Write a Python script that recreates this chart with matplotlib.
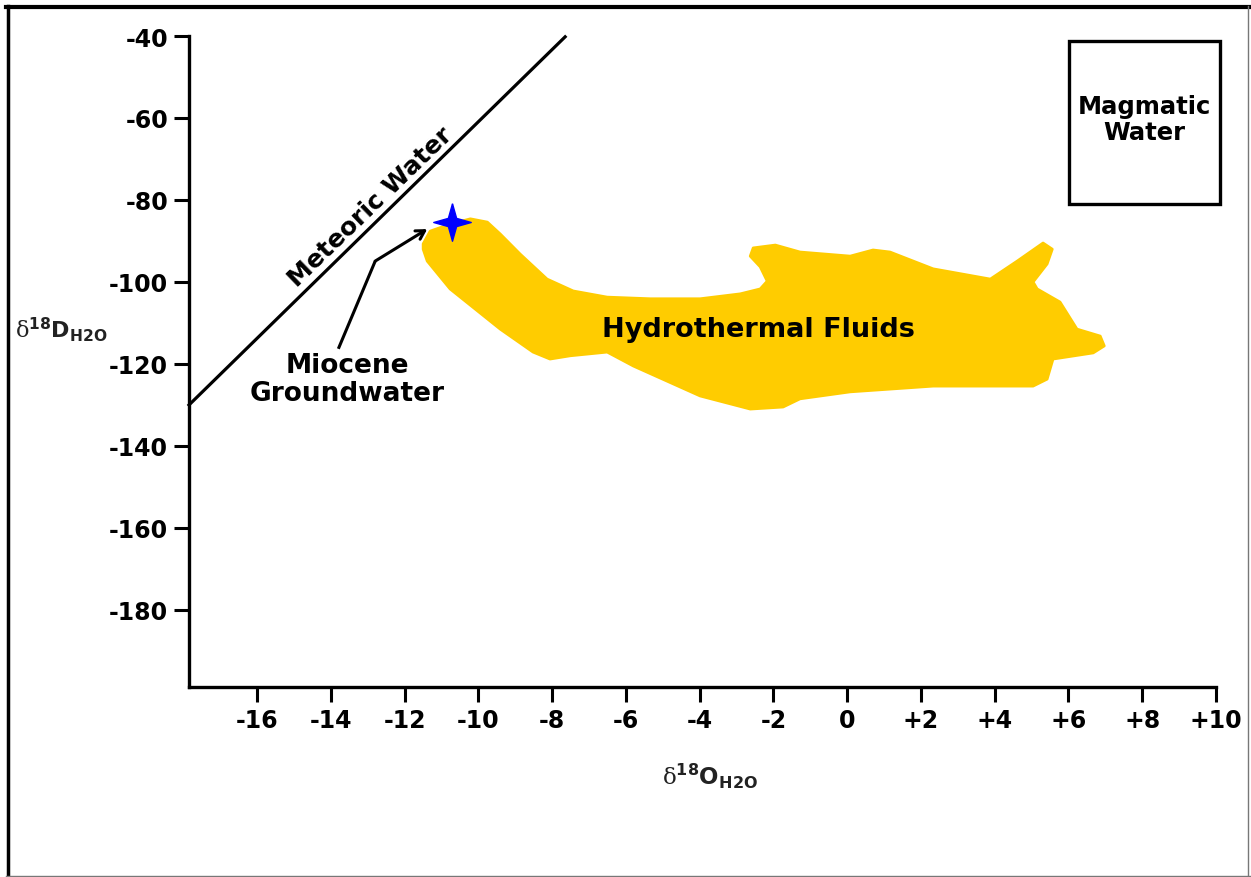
import matplotlib
matplotlib.use("Agg")
import matplotlib.pyplot as plt
from matplotlib.patches import Polygon, Rectangle
from matplotlib.path import Path
from matplotlib.lines import Line2D

plt.rcParams["font.family"] = ["DejaVu Sans"]
plt.rcParams["mathtext.fontset"] = "custom"
plt.rcParams["mathtext.rm"] = "DejaVu Serif"
plt.rcParams["mathtext.bf"] = "DejaVu Sans:bold"

# axis ticks
x_ticks = [-16, -14, -12, -10, -8, -6, -4, -2, 0, 2, 4, 6, 8, 10]
x_tick_labels = ["-16", "-14", "-12", "-10", "-8", "-6", "-4", "-2", "0",
                 "+2", "+4", "+6", "+8", "+10"]
y_ticks = [-40, -60, -80, -100, -120, -140, -160, -180]
y_tick_labels = ["-40", "-60", "-80", "-100", "-120", "-140", "-160", "-180"]

# meteoric water line
meteoric_x = [-17.85, -7.65]
meteoric_y = [-130.0, -40.2]

# hydrothermal fluids field outline
blob_x = [-11.50, -11.31, -10.77, -10.22, -9.76, -9.41, -8.87, -8.14, -7.43,
          -6.51, -5.34, -3.99, -2.90, -2.36, -2.17, -2.36, -2.63, -2.55, -1.95,
          -1.28, 0.08, 0.70, 1.16, 2.33, 3.88, 4.61, 5.31, 5.56, 5.42, 5.04,
          5.15, 5.77, 6.23, 6.86, 6.97, 6.67, 5.58, 5.42, 5.04, 2.33, 0.08,
          -1.28, -1.74, -2.63, -3.99, -5.80, -6.51, -7.51, -8.06, -8.52,
          -9.41, -10.77, -11.39, -11.50]
blob_y = [-90.7, -87.6, -85.9, -84.6, -85.4, -88.3, -93.2, -99.3, -102.2,
          -103.7, -104.1, -104.1, -102.9, -101.7, -99.8, -96.3, -93.7, -91.7,
          -91.0, -92.7, -93.7, -92.2, -92.7, -96.8, -99.3, -94.9, -90.5, -92.0,
          -95.6, -100.0, -101.7, -104.9, -111.5, -113.2, -115.6, -117.3,
          -118.8, -123.7, -125.4, -125.4, -126.8, -128.5, -130.5, -131.0,
          -127.8, -120.5, -117.1, -118.0, -118.8, -117.1, -111.5, -101.7,
          -94.9, -92.0]

# miocene groundwater point and pointer
star_x = -10.71
star_y = -85.4
pointer_x = [-13.80, -12.80, -11.39]
pointer_y = [-116.3, -94.9, -87.1]

# magmatic water box
magma_x0, magma_x1 = 6.02, 10.11
magma_y0, magma_y1 = -81.0, -41.2

fig = plt.figure(figsize=(12.51, 8.78), dpi=100)
ax = fig.add_axes([189 / 1251, 1 - 688 / 878, (1216 - 189) / 1251, (688 - 37) / 878])
ax.set_xlim(-17.85, 10)
ax.set_ylim(-198.8, -40)

for side in ["top", "right"]:
    ax.spines[side].set_visible(False)
for side in ["left", "bottom"]:
    ax.spines[side].set_linewidth(2.4)
ax.tick_params(direction="out", length=11, width=2.2, pad=4, labelsize=17)
ax.set_xticks(x_ticks)
ax.set_xticklabels(x_tick_labels, fontweight="bold")
ax.set_yticks(y_ticks)
ax.set_yticklabels(y_tick_labels, fontweight="bold")

ax.add_patch(Polygon(list(zip(blob_x, blob_y)), closed=True, facecolor="#FFCC00",
                     edgecolor="#FFCC00", linewidth=2, joinstyle="round", zorder=2))
ax.text(-2.42, -111.5, "Hydrothermal Fluids", fontsize=19.5, fontweight="bold",
        ha="center", va="center", zorder=3)

ax.plot(meteoric_x, meteoric_y, color="black", linewidth=2.3, clip_on=False, zorder=3)
ax.text(-12.94, -81.5, "Meteoric Water", fontsize=18, fontweight="bold", rotation=44,
        ha="center", va="center", rotation_mode="anchor", zorder=3)

star = Path([(0, 1), (0.22, 0.22), (1, 0), (0.22, -0.22), (0, -1), (-0.22, -0.22),
             (-1, 0), (-0.22, 0.22), (0, 1)])
ax.plot([star_x], [star_y], marker=star, markersize=27, color="#0000FF",
        linestyle="none", zorder=5)

ax.plot(pointer_x[:2], pointer_y[:2], color="black", linewidth=2.2, zorder=4,
        solid_capstyle="butt")
ax.annotate("", xy=(pointer_x[2], pointer_y[2]), xytext=(pointer_x[1], pointer_y[1]),
            arrowprops=dict(arrowstyle="->,head_length=0.6,head_width=0.35",
                            color="black", linewidth=2.2, shrinkA=0, shrinkB=0),
            zorder=4)
ax.text(-13.56, -123.7, "Miocene\nGroundwater", fontsize=19, fontweight="bold",
        ha="center", va="center", linespacing=1.1, zorder=3)

ax.add_patch(Rectangle((magma_x0, magma_y0), magma_x1 - magma_x0, magma_y1 - magma_y0,
                       facecolor="white", edgecolor="black", linewidth=2.4,
                       clip_on=False, zorder=3))
ax.text((magma_x0 + magma_x1) / 2, -60.2, "Magmatic\nWater", fontsize=17.5,
        fontweight="bold", ha="center", va="center", linespacing=1.1, zorder=4)

fig.text(15 / 1251, 1 - 330 / 878,
         r"$\mathrm{\delta}^{\mathbf{18}}\mathbf{D}_{\mathbf{H2O}}$",
         fontsize=16, ha="left", va="center", color="#222222")
fig.text(710 / 1251, 1 - 776 / 878,
         r"$\mathrm{\delta}^{\mathbf{18}}\mathbf{O}_{\mathbf{H2O}}$",
         fontsize=16.5, ha="center", va="center", color="#222222")

# outer frame
fig.add_artist(Line2D([7.5 / 1251, 7.5 / 1251], [0, 1 - 7 / 878], color="black",
                      linewidth=2.5, transform=fig.transFigure))
fig.add_artist(Line2D([6 / 1251, 1], [1 - 7.5 / 878, 1 - 7.5 / 878], color="black",
                      linewidth=3, transform=fig.transFigure))
fig.add_artist(Line2D([1247.5 / 1251, 1247.5 / 1251], [0, 1 - 7 / 878], color="#777777",
                      linewidth=1, transform=fig.transFigure))
fig.add_artist(Line2D([6 / 1251, 1], [0.7 / 878, 0.7 / 878], color="#777777",
                      linewidth=1, transform=fig.transFigure))

fig.savefig("out.png", dpi=100)
